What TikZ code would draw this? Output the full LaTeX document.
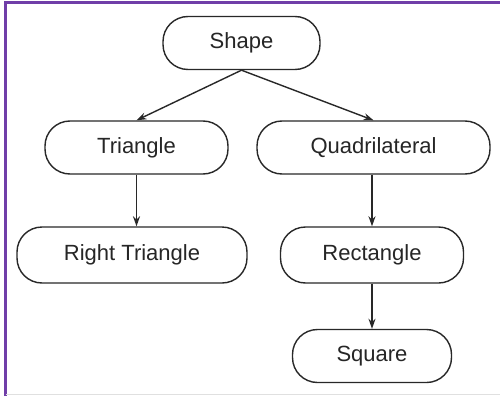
\documentclass[tikz,border=0pt]{standalone}
\usepackage{fontspec}
\setmainfont{Liberation Sans}
\usetikzlibrary{arrows.meta}
\definecolor{framepurple}{RGB}{112,62,168}
\definecolor{linegray}{RGB}{40,40,40}
\tikzset{
  box/.style={draw=linegray, line width=1.4pt, rounded corners=25pt, minimum height=53pt,
    inner sep=0pt, font=\fontsize{22}{26}\selectfont, text=black!85},
  link/.style={draw=linegray, line width=1.4pt, -{Stealth[length=10pt,width=7pt]}}
}
\begin{document}
\begin{tikzpicture}[x=1pt,y=-1pt]
\useasboundingbox (0,0) rectangle (500,396);
\fill[white] (0,0) rectangle (500,396);
\draw[framepurple, line width=2.5pt] (5.5,396) -- (5.5,2.5) -- (500,2.5);
\draw[black!12, line width=1.5pt] (5.5,394.5) -- (500,394.5);

\node[box, minimum width=157pt] (shape) at (241.5,43) {Shape};
\node[box, minimum width=183pt] (tri) at (136.5,147.5) {Triangle};
\node[box, minimum width=233pt] (quad) at (373.5,147.5) {Quadrilateral};
\node[box, minimum width=230pt, minimum height=56pt] (rtri) at (132,255) {Right Triangle};
\node[box, minimum width=183pt, minimum height=56pt] (rect) at (372,255) {Rectangle};
\node[box, minimum width=159pt] (sq) at (372,356) {Square};

\draw[link] (shape.south) -- (tri.north);
\draw[link] (shape.south) -- (quad.north);
\draw[link] (tri.south) -- (tri.south |- rtri.north);
\draw[link] (quad.south -| rect.north) -- (rect.north);
\draw[link] (rect.south) -- (sq.north);
\end{tikzpicture}
\end{document}
